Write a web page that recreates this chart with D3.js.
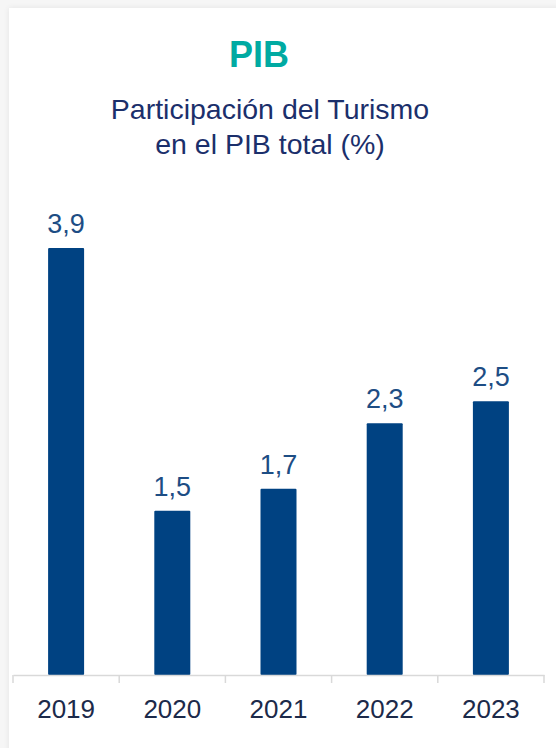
<!DOCTYPE html>
<html><head><meta charset="utf-8">
<script src="https://cdn.jsdelivr.net/npm/d3@7"></script>
<style>
html,body{margin:0;padding:0;background:#f6f6f6;}
svg{display:block;font-family:"Liberation Sans",Arial,sans-serif;}
</style></head>
<body>
<svg id="c" width="556" height="748"></svg>
<script>
const categories = ["2019","2020","2021","2022","2023"];
const values = [3.9, 1.5, 1.7, 2.3, 2.5];
const valueLabels = ["3,9","1,5","1,7","2,3","2,5"];
const title = "PIB";
const subtitle = ["Participación del Turismo","en el PIB total (%)"];

const svg = d3.select("#c");
const defs = svg.append("defs");
const f = defs.append("filter").attr("id","sh").attr("x","-5%").attr("y","-5%").attr("width","110%").attr("height","110%");
f.append("feGaussianBlur").attr("in","SourceAlpha").attr("stdDeviation",3);
f.append("feOffset").attr("dx",0).attr("dy",0).attr("result","b");
f.append("feComponentTransfer").append("feFuncA").attr("type","linear").attr("slope",0.08);
const m = f.append("feMerge"); m.append("feMergeNode"); m.append("feMergeNode").attr("in","SourceGraphic");

svg.append("rect").attr("x",9).attr("y",8).attr("width",560).attr("height",760).attr("fill","#fff").attr("filter","url(#sh)");

svg.append("text").attr("x",259).attr("y",67).attr("text-anchor","middle")
  .attr("font-size",36).attr("font-weight","bold").attr("fill","#00aaa2").text(title);
svg.selectAll(".sub").data(subtitle).enter().append("text")
  .attr("x",270).attr("y",(d,i)=>119+i*35).attr("text-anchor","middle")
  .attr("font-size",28.5).attr("fill","#1b2f6b").text(d=>d);

const x = d3.scaleBand().domain(categories).range([13,544]).paddingInner(0).paddingOuter(0);
const y = d3.scaleLinear().domain([0,1]).range([675,565.5]);
const bw = 36;

svg.selectAll(".bar").data(values).enter().append("rect")
  .attr("x",(d,i)=>x(categories[i])+x.bandwidth()/2-bw/2)
  .attr("y",d=>y(d)).attr("width",bw).attr("height",d=>y(0)-y(d))
  .attr("rx",1).attr("fill","#004282");

svg.selectAll(".vl").data(values).enter().append("text")
  .attr("x",(d,i)=>x(categories[i])+x.bandwidth()/2)
  .attr("y",d=>y(d)-15).attr("text-anchor","middle")
  .attr("font-size",27).attr("fill","#1d4d84").text((d,i)=>valueLabels[i]);

const ax = svg.append("g").attr("transform","translate(0,675)")
  .call(d3.axisBottom(x).tickSize(0).tickPadding(24.5));
ax.select(".domain").attr("stroke","#d9d9d9").attr("stroke-width",1.5);
ax.selectAll(".tick text").attr("font-size",26).attr("fill","#1c2a4a").attr("font-family","Liberation Sans, Arial, sans-serif");
const bounds = categories.map(c=>x(c)).concat([x.range()[1]]);
ax.selectAll(".sep").data(bounds).enter().append("line")
  .attr("x1",d=>d).attr("x2",d=>d).attr("y1",0).attr("y2",8)
  .attr("stroke","#d9d9d9").attr("stroke-width",1.5);
</script>
</body></html>
